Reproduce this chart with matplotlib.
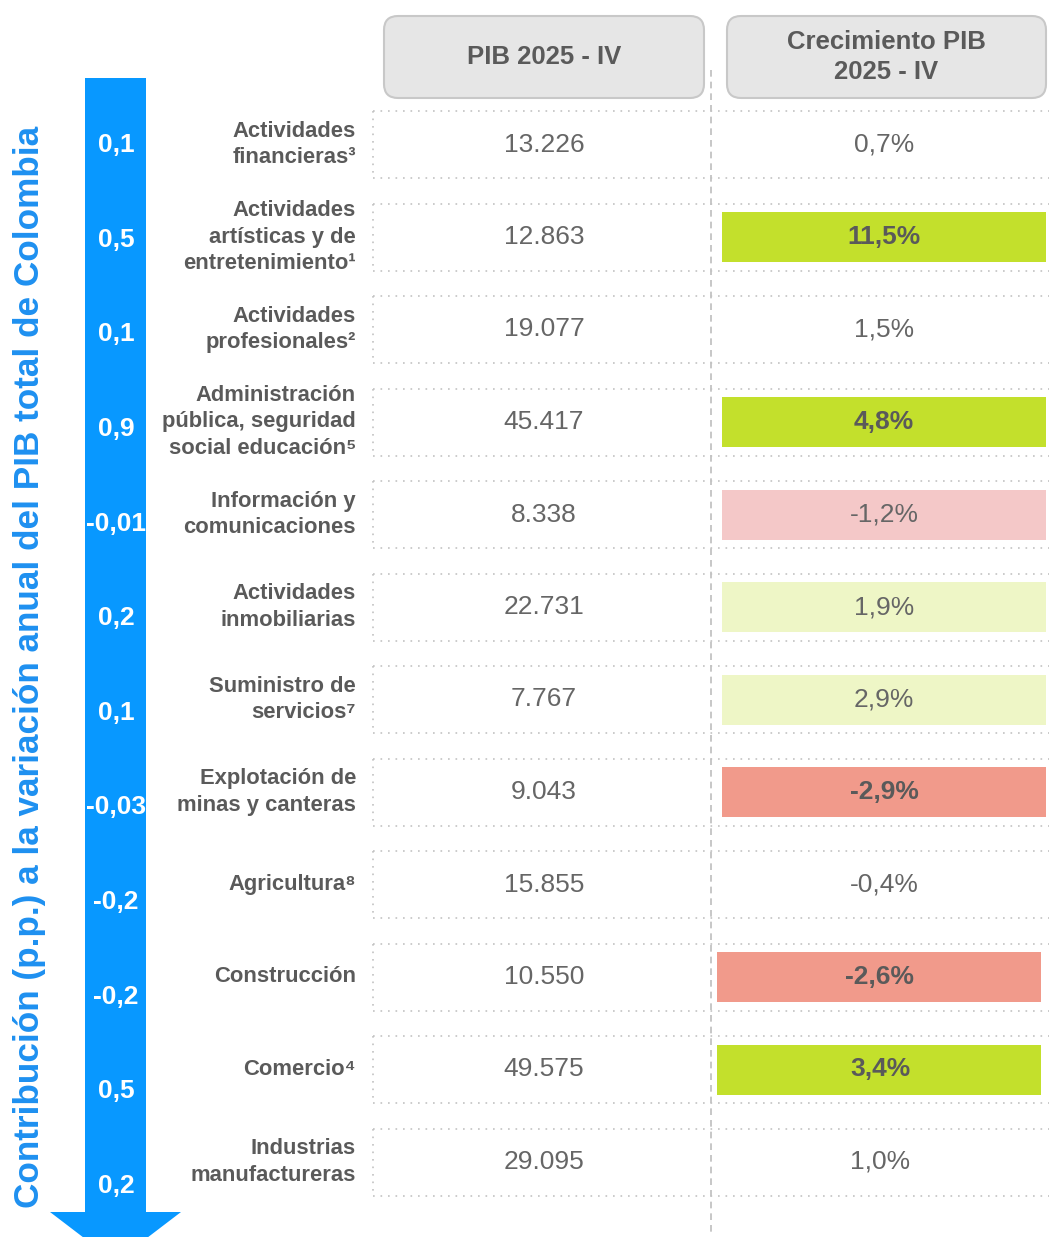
import matplotlib.pyplot as plt
from matplotlib.patches import FancyBboxPatch, Polygon, Rectangle

# datos de la tabla
sectores = [
    "Actividades\nfinancieras³",
    "Actividades\nartísticas y de\nentretenimiento¹",
    "Actividades\nprofesionales²",
    "Administración\npública, seguridad\nsocial educación⁵",
    "Información y\ncomunicaciones",
    "Actividades\ninmobiliarias",
    "Suministro de\nservicios⁷",
    "Explotación de\nminas y canteras",
    "Agricultura⁸",
    "Construcción",
    "Comercio⁴",
    "Industrias\nmanufactureras",
]
pib = [13226, 12863, 19077, 45417, 8338, 22731, 7767, 9043, 15855, 10550, 49575, 29095]
crecimiento = [0.7, 11.5, 1.5, 4.8, -1.2, 1.9, 2.9, -2.9, -0.4, -2.6, 3.4, 1.0]
contribucion = [0.1, 0.5, 0.1, 0.9, -0.01, 0.2, 0.1, -0.03, -0.2, -0.2, 0.5, 0.2]
encabezados = ["PIB 2025 - IV", "Crecimiento PIB\n2025 - IV"]
titulo = "Contribución (p.p.) a la variación anual del PIB total de Colombia"

FUENTE = ['Liberation Sans', 'DejaVu Sans']
GRIS = '#5a5a5a'
AZUL = '#0898FF'


def color_crec(v):
    # color de fondo segun el crecimiento
    if v >= 3:
        return '#C3E02C', True
    if v >= 1.7:
        return '#EEF6C6', False
    if v <= -2:
        return '#F19A8B', True
    if v <= -0.8:
        return '#F4C8C8', False
    return None, False


def fmt_miles(n):
    return f"{n:,}".replace(',', '.')


def fmt_dec(v):
    return f"{v:g}".replace('.', ',')


fig = plt.figure(figsize=(10.49, 12.37), dpi=100)
ax = fig.add_axes([0, 0, 1, 1])
ax.set_xlim(0, 1049)
ax.set_ylim(1237, 0)
ax.axis('off')

# encabezados
for (x0, x1), txt in zip([(384, 704), (727, 1046)], encabezados):
    ax.add_patch(FancyBboxPatch((x0, 16), x1 - x0, 82,
                                boxstyle="round,pad=0,rounding_size=14",
                                fc='#e6e6e6', ec='#c8c8c8', lw=1.5))
    ax.text((x0 + x1) / 2, 57, txt, ha='center', va='center', fontsize=18.5,
            fontweight='bold', color=GRIS, family=FUENTE, linespacing=1.3)

# linea vertical punteada entre columnas
ax.plot([711, 711], [70, 1232], color='#bdbdbd', lw=1.2, linestyle=(0, (4, 3)))

# flecha azul
flecha = Polygon([(85, 78), (146, 78), (146, 1212), (181, 1212), (115.5, 1262),
                  (50, 1212), (85, 1212)], closed=True, fc=AZUL, ec='none')
ax.add_patch(flecha)
ax.text(30, 667, titulo, rotation=90, ha='center', va='center', fontsize=25.3,
        fontweight='bold', color='#1E90F0', family=FUENTE)

top0 = 111
paso = 92.5
alto = 67
paso_flecha = (1186 - 145) / 11
for i in range(len(sectores)):
    top = top0 + i * paso
    yc = top + alto / 2
    # bordes punteados de la fila
    for yy in (top, top + alto):
        ax.plot([373, 1049], [yy, yy], color='#c2c2c2', lw=1.2, linestyle=(0, (1, 3.5)))
    ax.plot([373, 373], [top, top + alto], color='#c2c2c2', lw=1.2, linestyle=(0, (1, 3.5)))

    fc, negrita = color_crec(crecimiento[i])
    if fc is not None:
        x_caja = 722 if i < 9 else 717
        ax.add_patch(Rectangle((x_caja, yc - 25), 324, 50, fc=fc, ec='none'))

    ax.text(356, yc, sectores[i], ha='right', va='center', fontsize=15.8,
            fontweight='bold', color=GRIS, family=FUENTE, linespacing=1.36)
    ax.text(544, yc, fmt_miles(pib[i]), ha='center', va='center', fontsize=19,
            color='#666666', family=FUENTE)
    ax.text(884 if i < 9 else 880, yc, f"{crecimiento[i]:.1f}".replace('.', ',') + '%',
            ha='center', va='center', fontsize=19,
            fontweight='bold' if negrita else 'normal', color=GRIS if negrita else '#666666',
            family=FUENTE)
    ax.text(116, 145 + i * paso_flecha, fmt_dec(contribucion[i]), ha='center', va='center',
            fontsize=19, fontweight='bold', color='white', family=FUENTE)

fig.savefig('out.png', dpi=100)
